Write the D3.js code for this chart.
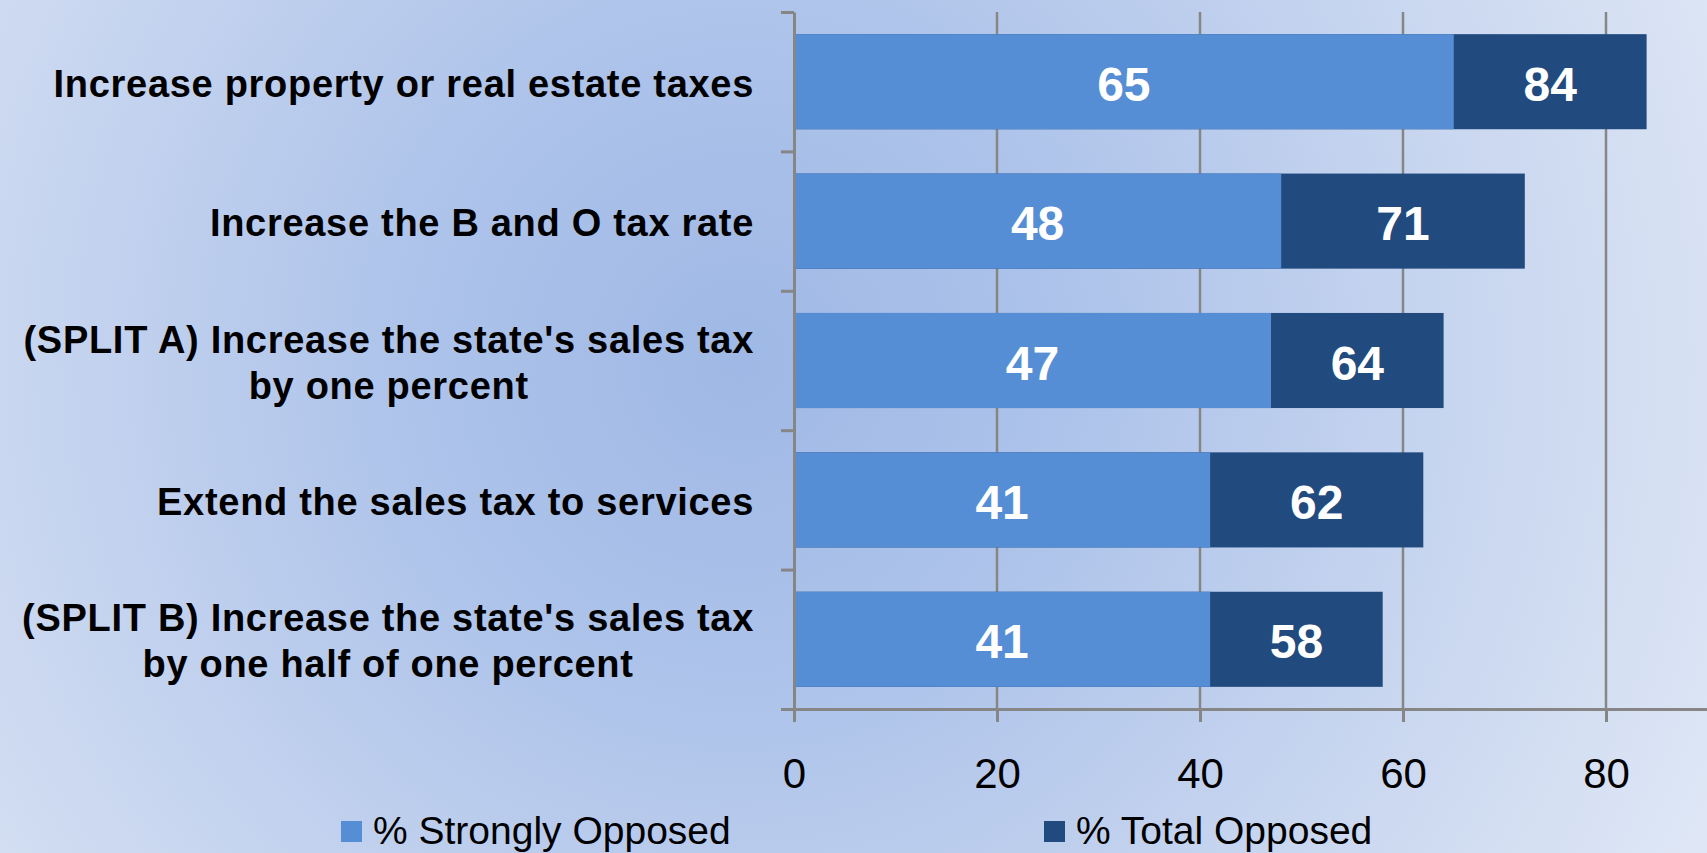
<!DOCTYPE html>
<html>
<head>
<meta charset="utf-8">
<script src="https://cdn.jsdelivr.net/npm/d3@7"></script>
<style>
  html, body { margin: 0; padding: 0; overflow: hidden; background: #cdd9f0; }
  svg { display: block; }
</style>
</head>
<body>
<script>
// ---- data ----
const categories = [
  "Increase property or real estate taxes",
  "Increase the B and O tax rate",
  "(SPLIT A) Increase the state's sales tax\nby one percent",
  "Extend the sales tax to services",
  "(SPLIT B) Increase the state's sales tax\nby one half of one percent"
];
const strongly = [65, 48, 47, 41, 41];
const total = [84, 72, 64, 62, 58];          // bar lengths as drawn
const stronglyLabels = ["65", "48", "47", "41", "41"];
const totalLabels = ["84", "71", "64", "62", "58"]; // labels as printed
const xTicks = [0, 20, 40, 60, 80];
const seriesNames = ["% Strongly Opposed", "% Total Opposed"];
const colors = ["#558ed5", "#214a7e"];

// ---- layout ----
const W = 1707, H = 853;
const svg = d3.select("body").append("svg").attr("width", W).attr("height", H);

const defs = svg.append("defs");
const grad = defs.append("radialGradient")
  .attr("id", "bg").attr("gradientUnits", "userSpaceOnUse")
  .attr("cx", 740).attr("cy", 360).attr("r", 1100);
[[0, "#9fb8e5"], [0.3, "#adc3ea"], [0.7, "#cbd8f0"], [1, "#e0e8f6"]]
  .forEach(([o, c]) => grad.append("stop").attr("offset", o).attr("stop-color", c));
svg.append("rect").attr("width", W).attr("height", H).attr("fill", "url(#bg)");

const plotX0 = 794, plotTop = 12, plotBottom = 709;
const x = d3.scaleLinear().domain([0, 100]).range([plotX0, plotX0 + 1015]);
const y = d3.scaleBand().domain(categories).range([plotTop, plotBottom])
  .paddingInner(0.318).paddingOuter(0.159);
const yLin = d3.scaleLinear().domain([0, categories.length]).range([plotTop, plotBottom]);

// gridlines
svg.append("g").selectAll("line").data(xTicks.filter(d => d > 0)).join("line")
  .attr("x1", d => x(d)).attr("x2", d => x(d))
  .attr("y1", plotTop).attr("y2", plotBottom)
  .attr("stroke", "#868686").attr("stroke-width", 2.5);

// bars: total behind, strongly in front
const rows = categories.map((c, i) => ({
  c, s: strongly[i], t: total[i], sl: stronglyLabels[i], tl: totalLabels[i]
}));
svg.append("g").selectAll("rect").data(rows).join("rect")
  .attr("x", x(0)).attr("y", d => y(d.c))
  .attr("width", d => x(d.t) - x(0)).attr("height", y.bandwidth())
  .attr("fill", colors[1]);
svg.append("g").selectAll("rect").data(rows).join("rect")
  .attr("x", x(0)).attr("y", d => y(d.c))
  .attr("width", d => x(d.s) - x(0)).attr("height", y.bandwidth())
  .attr("fill", colors[0]);

// value labels
const vl = svg.append("g").attr("font-family", "Liberation Sans, Arial, sans-serif")
  .attr("font-weight", "bold").attr("font-size", 48).attr("fill", "#fff")
  .attr("text-anchor", "middle");
vl.selectAll("text.s").data(rows).join("text").attr("class", "s")
  .attr("x", d => x(d.s / 2)).attr("y", d => y(d.c) + y.bandwidth() / 2 + 19)
  .text(d => d.sl);
vl.selectAll("text.t").data(rows).join("text").attr("class", "t")
  .attr("x", d => x((d.s + d.t) / 2)).attr("y", d => y(d.c) + y.bandwidth() / 2 + 19)
  .text(d => d.tl);

// y axis (category boundaries ticks)
const yAxis = svg.append("g").attr("transform", `translate(${plotX0},0)`)
  .call(d3.axisLeft(yLin).ticks(categories.length).tickFormat("").tickSize(13).tickSizeOuter(0));
yAxis.selectAll("path,line").attr("stroke", "#868686").attr("stroke-width", 3);

// x axis
const xAxis = svg.append("g").attr("transform", `translate(0,${plotBottom})`)
  .call(d3.axisBottom(x).tickValues(xTicks).tickSize(13).tickSizeOuter(0).tickPadding(36));
xAxis.selectAll("path,line").attr("stroke", "#868686").attr("stroke-width", 3);
xAxis.selectAll("text").attr("font-family", "Liberation Sans, Arial, sans-serif")
  .attr("font-size", 42).attr("fill", "#000");

// category labels
const labelRight = 754;
const lg = svg.append("g").attr("font-family", "Liberation Sans, Arial, sans-serif")
  .attr("font-weight", "bold").attr("font-size", 38).attr("fill", "#000")
  .attr("letter-spacing", "0.7px").attr("text-anchor", "middle");
categories.forEach(c => {
  const lines = c.split("\n");
  const cy = y(c) + y.bandwidth() / 2;
  const t = lg.append("text");
  lines.forEach((ln, i) => {
    t.append("tspan").attr("x", 0)
      .attr("y", cy + (i - (lines.length - 1) / 2) * 46 + 15)
      .text(ln);
  });
  const wMax = d3.max(t.selectAll("tspan").nodes(), n => n.getComputedTextLength());
  t.selectAll("tspan").attr("x", labelRight - wMax / 2);
});

// legend
const legendPos = [341, 1044];
const leg = svg.append("g").attr("font-family", "Liberation Sans, Arial, sans-serif")
  .attr("font-size", 39).attr("fill", "#000");
seriesNames.forEach((n, i) => {
  leg.append("rect").attr("x", legendPos[i]).attr("y", 821).attr("width", 21).attr("height", 21)
    .attr("fill", colors[i]);
  leg.append("text").attr("x", legendPos[i] + 32).attr("y", 844).text(n);
});
</script>
</body>
</html>
